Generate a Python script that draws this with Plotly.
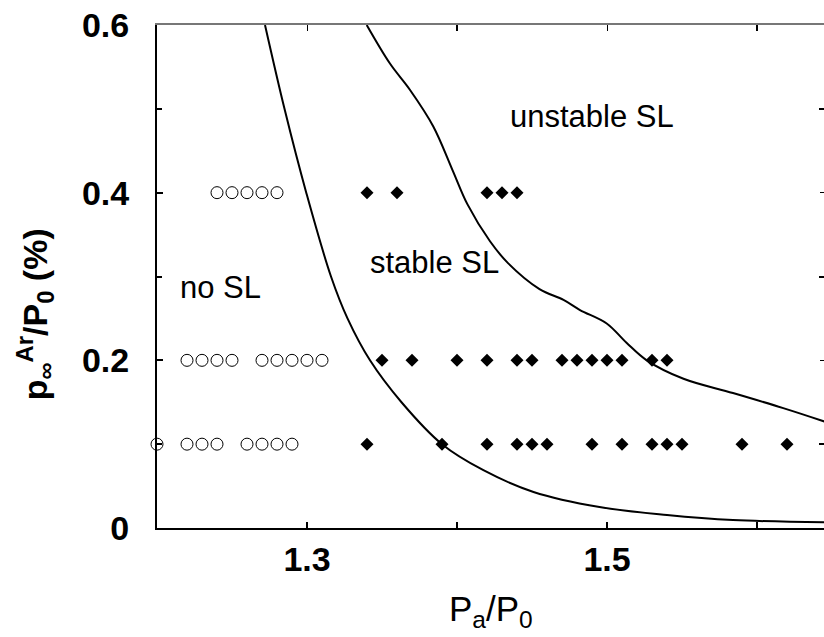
import plotly.graph_objects as go

# ---- data ----
no_sl_x_04 = [1.24, 1.25, 1.26, 1.27, 1.28]
no_sl_x_02 = [1.22, 1.23, 1.24, 1.25, 1.27, 1.28, 1.29, 1.30, 1.31]
no_sl_x_01 = [1.20, 1.22, 1.23, 1.24, 1.26, 1.27, 1.28, 1.29]
sl_x_04 = [1.34, 1.36, 1.42, 1.43, 1.44]
sl_x_02 = [1.35, 1.37, 1.40, 1.42, 1.44, 1.45, 1.47, 1.48, 1.49, 1.50, 1.51, 1.53, 1.54]
sl_x_01 = [1.34, 1.39, 1.42, 1.44, 1.45, 1.46, 1.49, 1.51, 1.53, 1.54, 1.55, 1.59, 1.62]

lower_x = [1.272, 1.285, 1.2995, 1.316, 1.327, 1.342, 1.363,
           1.390, 1.4176, 1.451, 1.495, 1.540, 1.584, 1.645]
lower_y = [0.600, 0.500, 0.400, 0.300, 0.250, 0.200, 0.150,
           0.100, 0.069, 0.043, 0.025, 0.0155, 0.0095, 0.0068]

upper_x = [1.3398, 1.3553, 1.3687, 1.3842, 1.397, 1.407, 1.422, 1.434, 1.455,
           1.471, 1.482, 1.4998, 1.513, 1.5265, 1.551, 1.584, 1.6175, 1.645]
upper_y = [0.600, 0.554, 0.5225, 0.479, 0.427, 0.386, 0.342, 0.316, 0.285,
           0.272, 0.260, 0.244, 0.221, 0.200, 0.178, 0.161, 0.143, 0.127]

x_tickvals = [1.3, 1.5]
x_ticktext = ["1.3", "1.5"]
x_minor = [1.2, 1.4, 1.6]
y_tickvals = [0, 0.2, 0.4, 0.6]
y_ticktext = ["0", "0.2", "0.4", "0.6"]
y_minor = [0.1, 0.3, 0.5]

FONT = "Liberation Sans, Arial, Helvetica, sans-serif"

fig = go.Figure()

circ = dict(symbol="circle-open", size=12, color="black", line=dict(width=1, color="black"))
diam = dict(symbol="diamond", size=10, color="black")

for xs, yv in [(no_sl_x_04, 0.4), (no_sl_x_02, 0.2), (no_sl_x_01, 0.1)]:
    fig.add_trace(go.Scatter(x=xs, y=[yv] * len(xs), mode="markers", marker=circ,
                             cliponaxis=False, showlegend=False))
for xs, yv in [(sl_x_04, 0.4), (sl_x_02, 0.2), (sl_x_01, 0.1)]:
    fig.add_trace(go.Scatter(x=xs, y=[yv] * len(xs), mode="markers", marker=diam,
                             cliponaxis=False, showlegend=False))

for xs, ys in [(lower_x, lower_y), (upper_x, upper_y)]:
    fig.add_trace(go.Scatter(x=xs, y=ys, mode="lines",
                             line=dict(color="black", width=2, shape="spline", smoothing=1.0),
                             showlegend=False))

# dummy trace for mirrored top/right axes
fig.add_trace(go.Scatter(x=[1.3], y=[0.3], xaxis="x2", yaxis="y2", mode="markers",
                         marker=dict(opacity=0), showlegend=False, hoverinfo="skip"))

xr = [1.2, 1.2 + 667 / 1500]
yr = [0, 0.6]

tickfont = dict(size=34, family=FONT, weight="bold")
minor_x = dict(tickvals=x_minor, ticks="inside", ticklen=6, tickwidth=1.5, tickcolor="black")
minor_y = dict(tickvals=y_minor, ticks="inside", ticklen=5, tickwidth=1.5, tickcolor="black")

fig.update_layout(
    width=824, height=637,
    margin=dict(l=157, r=0, t=25, b=109),
    paper_bgcolor="white", plot_bgcolor="white",
    font=dict(family=FONT, color="black"),
    xaxis=dict(range=xr, showgrid=False, zeroline=False, showline=True, automargin=False,
               linecolor="black", linewidth=2, ticks="inside", ticklen=6,
               tickwidth=1.5, tickcolor="black",
               tickvals=x_tickvals, ticktext=x_ticktext, minor=minor_x,
               tickfont=tickfont, ticklabelstandoff=0),
    yaxis=dict(range=yr, showgrid=False, zeroline=False, showline=True, automargin=False,
               linecolor="black", linewidth=2, ticks="inside", ticklen=6,
               tickwidth=1.5, tickcolor="black",
               tickvals=y_tickvals, ticktext=y_ticktext, minor=minor_y,
               tickfont=tickfont, ticklabelstandoff=19),
    xaxis2=dict(range=xr, overlaying="x", side="top", showgrid=False, zeroline=False,
                showline=True, linecolor="#777", linewidth=1.5, ticks="inside",
                ticklen=6, tickcolor="black", tickvals=x_tickvals, minor=minor_x,
                showticklabels=False, automargin=False),
    yaxis2=dict(range=yr, overlaying="y", side="right", showgrid=False, zeroline=False,
                showline=False, ticks="inside",
                ticklen=4, tickcolor="black", tickvals=y_tickvals, minor=minor_y,
                showticklabels=False, automargin=False),
    annotations=[
        dict(x=1.49, y=0.491, text="unstable SL", showarrow=False,
             font=dict(size=31, family=FONT)),
        dict(x=1.385, y=0.317, text="stable SL", showarrow=False,
             font=dict(size=31, family=FONT)),
        dict(x=1.242, y=0.287, text="no SL", showarrow=False,
             font=dict(size=31, family=FONT)),
        dict(xref="paper", yref="paper", x=0.5, y=-0.117, yanchor="top", xanchor="center",
             text="P<sub>a</sub>/P<sub>0</sub>", showarrow=False,
             font=dict(size=35, family=FONT)),
        dict(xref="paper", yref="paper", x=-0.183, y=0.425, xanchor="center", yanchor="middle",
             textangle=-90, text="p<sub>∞</sub><sup>Ar</sup>/P<sub>0</sub> (%)",
             showarrow=False, font=dict(size=34, family=FONT, weight="bold")),
    ],
)

fig.write_html("out.html", config={"displayModeBar": False},
               post_script="document.body.style.margin='0';document.body.style.overflow='hidden';")
